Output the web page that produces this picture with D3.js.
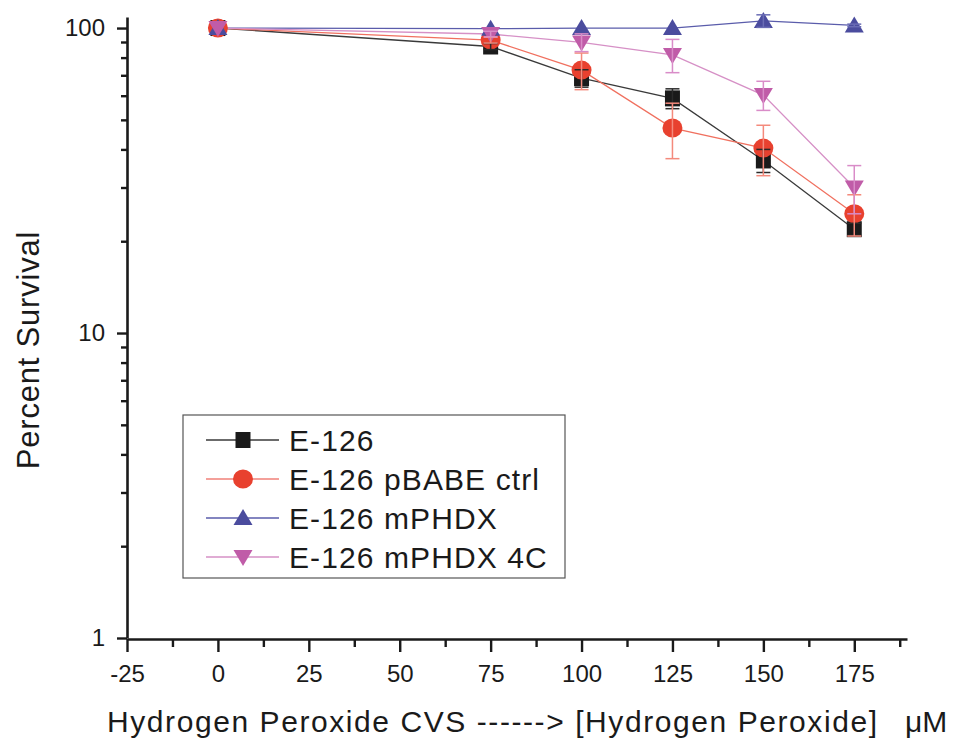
<!DOCTYPE html>
<html>
<head>
<meta charset="utf-8">
<script src="https://cdn.jsdelivr.net/npm/d3@7/dist/d3.min.js"></script>
<style>
  html, body { margin: 0; padding: 0; background: #fff; }
  svg { display: block; }
  text { font-family: "Liberation Sans", Arial, Helvetica, sans-serif; fill: #1a1a1a; }
</style>
</head>
<body>
<svg id="chart" width="953" height="740"></svg>
<script>
// ---- data ----
const concentrations = [0, 75, 100, 125, 150, 175];
const seriesNames = ["E-126", "E-126 pBABE ctrl", "E-126 mPHDX", "E-126 mPHDX 4C"];
const e126 = [100, 87, 68.5, 58.8, 36.8, 21.9];
const e126Err = [0, 2, 4.5, 4.4, 3.2, 1];
const pbabe = [100, 91.3, 72.8, 47, 40.4, 24.6];
const pbabeErr = [0, 2, 10, 9.7, 7.6, 3.8];
const mphdx = [100, 99.5, 100, 100, 105.5, 102];
const mphdxErr = [0, 0, 0, 0, 5, 1];
const mphdx4c = [100, 95.6, 89.7, 81.6, 60.3, 30];
const mphdx4cErr = [0, 2, 6, 10.2, 6.6, 5.4];
const xMajorTicks = [-25, 0, 25, 50, 75, 100, 125, 150, 175];
const xMinorTicks = [-12.5, 12.5, 37.5, 62.5, 87.5, 112.5, 137.5, 162.5, 187.5];
const yMajorTicks = [1, 10, 100];
const yMinorTicks = [2, 3, 4, 5, 6, 7, 8, 9, 20, 30, 40, 50, 60, 70, 80, 90];
const xTitle = "Hydrogen Peroxide CVS ------> [Hydrogen Peroxide]";
const xUnit = "μM";
const yTitle = "Percent Survival";

// ---- style (not data) ----
const styles = [
  { marker: "square",  fill: "#1a1a1a", line: "#3a3a3a", err: "#2a2a2a" },
  { marker: "circle",  fill: "#e8412f", line: "#f0705f", err: "#f48a7c" },
  { marker: "up",      fill: "#4b4c9e", line: "#5a5cab", err: "#6a6cb5" },
  { marker: "down",    fill: "#c05ca8", line: "#d690c6", err: "#d98cc8" }
];
const values = [e126, pbabe, mphdx, mphdx4c];
const errs = [e126Err, pbabeErr, mphdxErr, mphdx4cErr];

const svg = d3.select("#chart");
const x = d3.scaleLinear().domain([-25, 189.5]).range([127, 907]);
const y = d3.scaleLog().domain([1, 108.7]).range([638, 17]);

function markerPath(type, cx, cy) {
  if (type === "square") return `M${cx-7.5},${cy-8}h15v16h-15Z`;
  if (type === "circle") return `M${cx-10},${cy}a10,9.5 0 1,0 20,0a10,9.5 0 1,0 -20,0Z`;
  if (type === "up") return `M${cx},${cy-9}L${cx+9.5},${cy+7}L${cx-9.5},${cy+7}Z`;
  return `M${cx},${cy+9}L${cx+9.5},${cy-7}L${cx-9.5},${cy-7}Z`;
}

// lines
const lineGen = d3.line().x((d, i) => x(concentrations[i])).y(d => y(d));
values.forEach((vals, s) => {
  svg.append("path").attr("d", lineGen(vals))
    .attr("fill", "none").attr("stroke", styles[s].line).attr("stroke-width", 1.3);
});
// markers
values.forEach((vals, s) => {
  svg.append("g").selectAll("path").data(vals).join("path")
    .attr("d", (d, i) => markerPath(styles[s].marker, x(concentrations[i]), y(d)))
    .attr("fill", styles[s].fill);
});
// error bars
values.forEach((vals, s) => {
  const g = svg.append("g").attr("stroke", styles[s].err).attr("stroke-width", 1.5).attr("fill", "none");
  vals.forEach((v, i) => {
    const e = errs[s][i];
    if (!e) return;
    const cx = x(concentrations[i]);
    const y1 = y(v + e), y0 = y(v - e);
    g.append("line").attr("x1", cx).attr("x2", cx).attr("y1", y1).attr("y2", y0);
    g.append("line").attr("x1", cx - 7).attr("x2", cx + 7).attr("y1", y1).attr("y2", y1);
    g.append("line").attr("x1", cx - 7).attr("x2", cx + 7).attr("y1", y0).attr("y2", y0);
  });
});

// axes
function styleAxis(g) {
  g.select(".domain").attr("stroke", "#1a1a1a").attr("stroke-width", 2.6);
  g.selectAll(".tick line").attr("stroke", "#1a1a1a").attr("stroke-width", 2.4);
  g.selectAll(".tick text").attr("font-size", 24).attr("fill", "#1a1a1a")
    .attr("font-family", '"Liberation Sans", Arial, sans-serif');
}
const plainFmt = d => String(d);
const xAxis = svg.append("g").attr("transform", "translate(0,639)")
  .call(d3.axisBottom(x).tickValues(xMajorTicks).tickSize(13).tickSizeOuter(0).tickPadding(13).tickFormat(plainFmt));
styleAxis(xAxis);
const xMinor = svg.append("g").attr("transform", "translate(0,639)")
  .call(d3.axisBottom(x).tickValues(xMinorTicks).tickSize(8).tickSizeOuter(0).tickFormat(""));
xMinor.select(".domain").remove();
styleAxis(xMinor);

const yAxis = svg.append("g").attr("transform", "translate(127,0)")
  .call(d3.axisLeft(y).tickValues(yMajorTicks).tickSize(10).tickSizeOuter(0).tickPadding(12).tickFormat(plainFmt));
styleAxis(yAxis);
const yMinor = svg.append("g").attr("transform", "translate(127,0)")
  .call(d3.axisLeft(y).tickValues(yMinorTicks).tickSize(6).tickSizeOuter(0).tickFormat(""));
yMinor.select(".domain").remove();
styleAxis(yMinor);

// titles
svg.append("text").attr("x", 107).attr("y", 732).attr("font-size", 30)
  .attr("textLength", 770).attr("lengthAdjust", "spacing").text(xTitle);
svg.append("text").attr("x", 905).attr("y", 732).attr("font-size", 30).text(xUnit);
svg.append("text").attr("transform", "translate(39,350) rotate(-90)")
  .attr("text-anchor", "middle").attr("font-size", 31).attr("letter-spacing", 0.8).text(yTitle);

// legend
const leg = svg.append("g");
leg.append("rect").attr("x", 183).attr("y", 415).attr("width", 382).attr("height", 163)
  .attr("fill", "#fff").attr("stroke", "#555").attr("stroke-width", 1.2);
seriesNames.forEach((name, s) => {
  const cy = 440 + s * 39;
  leg.append("line").attr("x1", 206).attr("x2", 279).attr("y1", cy).attr("y2", cy)
    .attr("stroke", s === 1 ? "#f4a09a" : styles[s].line).attr("stroke-width", s === 1 ? 2 : 1.3);
  leg.append("path").attr("d", markerPath(styles[s].marker, 243, cy)).attr("fill", styles[s].fill);
  leg.append("text").attr("x", 289).attr("y", cy + 11).attr("font-size", 30)
    .attr("letter-spacing", 1.1).text(name);
});
</script>
</body>
</html>
